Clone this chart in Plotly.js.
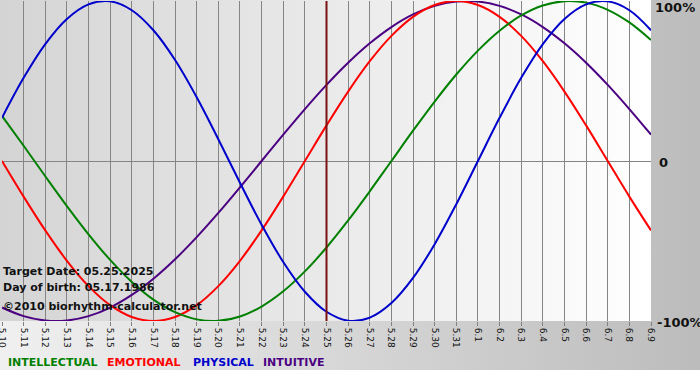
<!DOCTYPE html>
<html>
<head>
<meta charset="utf-8">
<script src="https://cdn.plot.ly/plotly-3.0.1.min.js"></script>
<style>
html,body{margin:0;padding:0;background:#ffffff;}
#wrap{position:relative;width:700px;height:380px;overflow:hidden;
  background:linear-gradient(to right,#f0f0f0,#bcbcbc);}
#white{position:absolute;left:0;top:370px;width:700px;height:10px;background:#ffffff;}
#plotbg{position:absolute;left:0;top:0;width:651px;height:321px;
  background:linear-gradient(to right,#d4d4d4,#ffffff);}
#chart{position:absolute;left:0;top:0;width:700px;height:380px;}
</style>
</head>
<body>
<div id="wrap">
  <div id="plotbg"></div>
  <div id="white"></div>
  <div id="chart"></div>
</div>
<script>
const days = ["5.10","5.11","5.12","5.13","5.14","5.15","5.16","5.17","5.18","5.19","5.20",
  "5.21","5.22","5.23","5.24","5.25","5.26","5.27","5.28","5.29","5.30","5.31",
  "6.1","6.2","6.3","6.4","6.5","6.6","6.7","6.8","6.9"];

const physical = [0.2698,0.5196,0.7308,0.8879,0.9791,0.9977,0.9423,0.8170,0.6311,0.3984,0.1362,
  -0.1362,-0.3984,-0.6311,-0.8170,-0.9423,-0.9977,-0.9791,-0.8879,-0.7308,-0.5196,-0.2698,
  0.0000,0.2698,0.5196,0.7308,0.8879,0.9791,0.9977,0.9423,0.8170];
const emotional = [0.0000,-0.2225,-0.4339,-0.6235,-0.7818,-0.9010,-0.9749,-1.0000,-0.9749,-0.9010,-0.7818,
  -0.6235,-0.4339,-0.2225,0.0000,0.2225,0.4339,0.6235,0.7818,0.9010,0.9749,1.0000,
  0.9749,0.9010,0.7818,0.6235,0.4339,0.2225,0.0000,-0.2225,-0.4339];
const intellectual = [0.2817,0.0951,-0.0951,-0.2817,-0.4582,-0.6182,-0.7557,-0.8660,-0.9450,-0.9898,-0.9989,
  -0.9718,-0.9096,-0.8146,-0.6901,-0.5406,-0.3717,-0.1893,0.0000,0.1893,0.3717,0.5406,
  0.6901,0.8146,0.9096,0.9718,0.9989,0.9898,0.9450,0.8660,0.7557];
const intuitive = [-0.9158,-0.9694,-0.9966,-0.9966,-0.9694,-0.9158,-0.8372,-0.7357,-0.6142,-0.4759,-0.3247,
  -0.1646,0.0000,0.1646,0.3247,0.4759,0.6142,0.7357,0.8372,0.9158,0.9694,0.9966,
  0.9966,0.9694,0.9158,0.8372,0.7357,0.6142,0.4759,0.3247,0.1646];

const targetDay = "5.25";
const infoLines = ["Target Date: 05.25.2025","Day of birth: 05.17.1986","©2010 biorhythm-calculator.net"];
const legendNames = ["INTELLECTUAL","EMOTIONAL","PHYSICAL","INTUITIVE"];
const yLabels = ["100%","0","-100%"];

const colors = {INTELLECTUAL:"#008000", EMOTIONAL:"#ff0000", PHYSICAL:"#0000cc", INTUITIVE:"#4b0082"};

function tr(y, name){
  return {x: days, y: y, type:"scatter", mode:"lines", name: name,
    line:{color: colors[name], width:2, shape:"spline", smoothing:1}, hoverinfo:"skip"};
}
const data = [tr(intuitive,"INTUITIVE"), tr(emotional,"EMOTIONAL"), tr(intellectual,"INTELLECTUAL"), tr(physical,"PHYSICAL")];

// plot area geometry in px
const L = 2, R = 651, T = 1, B = 321;
const W = R - L, H = B - T;
function px(x){ return (x - L) / W; }
function py(y){ return (B - y) / H; }

const annotations = [];
infoLines.forEach((t,i)=>{
  annotations.push({text:t, xref:"paper", yref:"paper", x:px(1), y:py([271,287,306][i]),
    xanchor:"left", yanchor:"middle", showarrow:false,
    font:{family:"DejaVu Sans", size:11, color:"#111111", weight:"bold"}});
});
const legX = [6, 105, 191, 261];
legendNames.forEach((n,i)=>{
  annotations.push({text:"<b>"+n+"</b>", xref:"paper", yref:"paper", x:px(legX[i]), y:py(362),
    xanchor:"left", yanchor:"middle", showarrow:false,
    font:{family:"DejaVu Sans", size:11, color:colors[n]}});
});
[[653,8],[657,162],[655,322]].forEach((p,i)=>{
  annotations.push({text:"<b>"+yLabels[i]+"</b>", xref:"paper", yref:"paper", x:px(p[0]), y:py(p[1]),
    xanchor:"left", yanchor:"middle", showarrow:false,
    font:{family:"DejaVu Sans", size:13, color:"#111111"}});
});

const tIdx = days.indexOf(targetDay);
const layout = {
  width:700, height:380,
  margin:{l:L, r:700-R, t:T, b:380-B, pad:0},
  paper_bgcolor:"rgba(0,0,0,0)", plot_bgcolor:"rgba(0,0,0,0)",
  showlegend:false,
  xaxis:{type:"category", range:[0, days.length-1], tickmode:"array", tickvals:days, ticktext:days,
    tickangle:90, ticks:"outside", ticklen:4, tickcolor:"#808080", showgrid:true, gridcolor:"#858585",
    gridwidth:1, zeroline:false, showline:false,
    tickfont:{family:"DejaVu Sans", size:9, color:"#111111"}, fixedrange:true},
  yaxis:{range:[-1,1], showticklabels:false, ticks:"", showgrid:false, zeroline:true,
    zerolinecolor:"#858585", zerolinewidth:1, showline:false, fixedrange:true},
  shapes:[{type:"line", xref:"x", yref:"paper", x0:tIdx, x1:tIdx,
    y0:0, y1:1, line:{color:"#7a1010", width:2}, layer:"above"}],
  annotations: annotations
};
Plotly.newPlot("chart", data, layout, {displayModeBar:false, staticPlot:true});
</script>
</body>
</html>
